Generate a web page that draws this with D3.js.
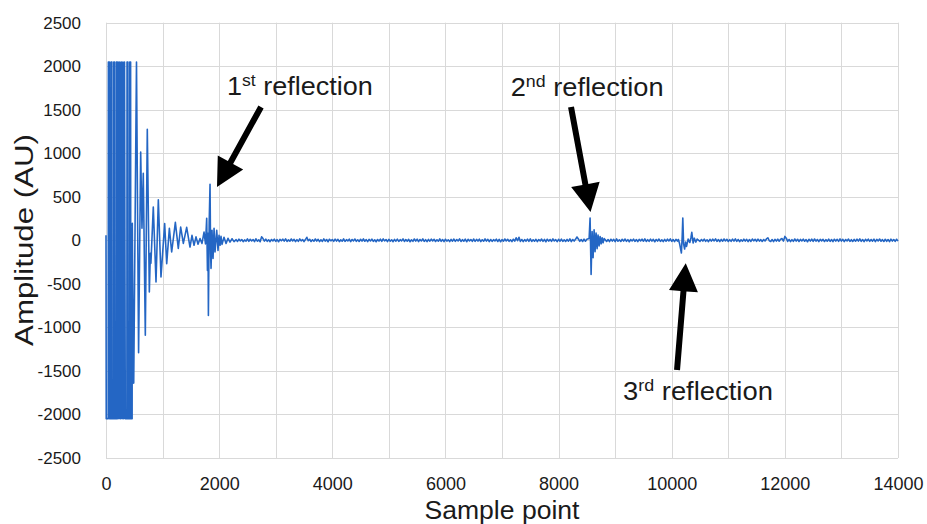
<!DOCTYPE html>
<html>
<head>
<meta charset="utf-8">
<script src="https://cdn.jsdelivr.net/npm/d3@7"></script>
<style>
  html, body { margin: 0; padding: 0; background: #ffffff; }
  svg { display: block; font-family: "Liberation Sans", Arial, sans-serif; }
</style>
</head>
<body>
<svg id="chart" width="927" height="524"></svg>
<script>
// ---------------- DATA ----------------
const xTicks = [0, 2000, 4000, 6000, 8000, 10000, 12000, 14000];
const xGrid = [0,1000,2000,3000,4000,5000,6000,7000,8000,9000,10000,11000,12000,13000,14000];
const yTicks = [2500, 2000, 1500, 1000, 500, 0, -500, -1000, -1500, -2000, -2500];

// initial burst, decay and 1st reflection: [sample, amplitude]
const burstAndFirst = [
  [0,60],[4,-2048],[39,-2048],[42,2048],[60,2048],[63,-2048],[86,-2048],[89,2048],[104,2048],
  [107,-2048],[135,-2048],[138,2048],[150,2048],[153,-2048],[180,-2048],[183,2048],[198,2048],
  [201,-2048],[215,2048],[229,-2048],[243,2048],[257,-2048],[271,2048],[285,-2048],[299,2048],
  [313,-2048],[327,2048],[341,-2048],[369,-2048],[372,2048],[387,2048],[390,-2048],[417,-2048],
  [420,2048],[435,2048],[438,-2048],[462,-2048],[465,195],[475,-780],[490,-1640],[505,-500],
  [539,2048],[576,-1290],[613,1015],[636,140],[659,770],[695,-1090],[730,1275],[766,-594],
  [784,-150],[794,-264],[836,383],[884,-479],[925,467],[972,-421],[1037,192],[1073,-268],
  [1120,138],[1161,-134],[1226,207],[1278,-92],[1320,153],[1367,-35],[1426,150],[1485,-77],
  [1520,57],[1556,-57],[1591,40],[1627,-45],[1662,20],[1697,-35],[1733,95],[1759,-40],
  [1780,253],[1793,-345],[1803,80],[1810,-862],[1824,200],[1839,643],[1849,-150],[1857,-322],
  [1874,115],[1892,-207],[1910,138],[1927,-134],[1957,115],[1980,-115],[1998,57],[2016,-57],
  [2033,46],[2051,-46],[2086,35],[2122,-35],[2157,23],[2192,-20],[2228,18],[2263,-15]
];

// baseline noise 2300..8500, every 25 samples
const noiseStep = 25;
const noiseAStart = 2300;
const noiseA = [
  8,-12,14,-6,10,-15,5,-9,16,-11,
  12,-7,9,-14,18,-10,6,-16,40,20,
  -8,13,-11,7,-15,10,-6,14,-12,9,
  -16,11,-5,13,-9,17,-13,6,-10,15,
  -7,12,-14,8,-11,16,-6,10,-15,9,
  35,-4,12,-13,7,-10,15,-8,11,-14,
  6,-12,17,-9,10,-16,13,-5,9,-11,
  14,-8,11,-15,6,-10,16,-12,8,-7,
  13,-14,10,-6,15,-11,7,-13,12,-9,
  16,-10,8,-15,11,-7,14,-12,6,-16,
  10,-8,13,-11,17,-6,9,-14,12,-10,
  7,-15,11,-9,14,-12,8,-6,16,-13,
  9,-10,12,-16,6,-11,15,-8,13,-14,
  10,-7,17,-12,8,-15,11,-9,14,-6,
  12,-13,7,-10,16,-11,9,-15,13,-8,
  6,-14,11,-9,15,-12,10,-7,17,-13,
  8,-10,14,-16,12,-6,9,-11,15,-12,
  11,-8,13,-14,7,-10,16,-9,12,-15,
  10,-12,8,-6,14,-13,11,-16,9,-10,
  15,-7,12,-11,6,-14,13,-9,30,-5,
  35,-12,10,-15,8,-9,14,-11,16,-13,
  7,-10,12,-14,9,-8,15,-12,11,-16,
  13,-9,10,-11,17,-7,8,-15,12,-10,
  14,-12,6,-13,11,-9,16,-14,10,-8,
  12,38,15,-11,9,-13,14,-10,12
];

// 2nd reflection: [sample, amplitude]
const secondReflection = [
  [8540,20],[8557,256],[8575,-391],[8593,100],[8610,-200],[8628,120],[8645,-130],[8663,85],
  [8681,-95],[8698,60],[8716,-65],[8734,45],[8752,-40],[8770,30],[8787,-28],[8805,20]
];

// baseline noise 8850..10100
const noiseBStart = 8850;
const noiseB = [
  -12,9,-15,13,-8,11,-14,16,-10,7,
  -13,12,-9,15,-11,8,-16,10,-7,14,
  -12,9,-15,11,-6,13,-10,17,-13,8,
  -11,14,-9,12,-16,10,-8,15,-12,6,
  -14,11,-10,13,-7,16,-12,9,-15,11,
  -8
];

// 3rd reflection
const thirdReflection = [
  [10118,10],[10140,-40],[10171,-146],[10185,40],[10196,256],[10210,-40],[10228,-100],[10245,-20],
  [10262,-70],[10290,15],[10320,-25],[10340,30],[10355,92],[10378,-30],[10400,25],[10425,-20],[10450,15]
];

// baseline noise 10500..14000
const noiseCStart = 10500;
const noiseC = [
  -12,10,-8,14,-11,7,-15,12,-9,13,
  -6,16,-12,9,-14,11,-10,15,-7,12,
  -13,8,-11,14,-9,16,-12,10,-15,7,
  -10,13,-8,11,-14,9,-12,15,-6,12,
  -11,14,-9,8,-13,10,-7,16,30,-5,
  -12,9,-15,11,-8,13,-10,14,20,-9,
  45,25,-12,10,-14,8,-11,15,-9,12,
  -13,11,-7,14,-10,9,-16,12,-8,13,
  -11,15,-9,10,-14,12,-6,11,-13,8,
  -10,14,-12,9,-15,13,-8,11,-11,16,
  -9,12,-14,10,-7,15,-12,8,-13,11,
  -10,13,-8,16,-11,9,-15,12,-6,14,
  -12,10,-9,13,-14,11,-7,15,-10,8,
  -13,12,-11,9,-15,14,-8,10,-12,13,
  -9
];

// annotations in data coordinates
const annotations = [
  {sup: "st", num: "1", textX: 2139, textY: 1670, width: 146, tail: [2740, 1532], tip: [1962, 612]},
  {sup: "nd", num: "2", textX: 7154, textY: 1662, width: 153, tail: [8220, 1532], tip: [8565, 326]},
  {sup: "rd", num: "3", textX: 9139, textY: -1834, width: 150, tail: [10094, -1489], tip: [10248, -263]}
];

// ---------------- BUILD SERIES ----------------
const series = [];
burstAndFirst.forEach(d => series.push(d));
noiseA.forEach((v, i) => series.push([noiseAStart + i * noiseStep, v]));
secondReflection.forEach(d => series.push(d));
noiseB.forEach((v, i) => series.push([noiseBStart + i * noiseStep, v]));
thirdReflection.forEach(d => series.push(d));
noiseC.forEach((v, i) => series.push([noiseCStart + i * noiseStep, v]));
series.sort((a, b) => a[0] - b[0]);

// ---------------- CHART ----------------
const svg = d3.select("#chart");
const pLeft = 106, pRight = 898, pTop = 22.7, pBottom = 458;
const x = d3.scaleLinear().domain([0, 14000]).range([pLeft, pRight]);
const y = d3.scaleLinear().domain([-2500, 2500]).range([pBottom, pTop]);
const fmt = d => String(d);

const gridColor = "#d9d9d9";
// grid
svg.append("g").selectAll("line").data(xGrid).join("line")
  .attr("x1", d => Math.round(x(d)) + 0.5).attr("x2", d => Math.round(x(d)) + 0.5)
  .attr("y1", pTop).attr("y2", pBottom)
  .attr("stroke", gridColor).attr("stroke-width", 1);
svg.append("g").selectAll("line").data(yTicks).join("line")
  .attr("y1", d => Math.round(y(d)) + 0.5).attr("y2", d => Math.round(y(d)) + 0.5)
  .attr("x1", pLeft).attr("x2", pRight)
  .attr("stroke", gridColor).attr("stroke-width", 1);

// axes (labels only)
const xAxis = svg.append("g").attr("transform", `translate(0,${pBottom + 16})`)
  .call(d3.axisBottom(x).tickValues(xTicks).tickSize(0).tickFormat(fmt));
xAxis.select(".domain").remove();
xAxis.selectAll("text").attr("font-size", 18).attr("fill", "#1a1a1a")
  .attr("font-family", "Liberation Sans, Arial, sans-serif");

const yAxis = svg.append("g").attr("transform", `translate(${pLeft - 22},0)`)
  .call(d3.axisLeft(y).tickValues(yTicks).tickSize(0).tickFormat(fmt));
yAxis.select(".domain").remove();
yAxis.selectAll("text").attr("font-size", 17).attr("fill", "#1a1a1a")
  .attr("font-family", "Liberation Sans, Arial, sans-serif");

// line
const line = d3.line().x(d => x(d[0])).y(d => y(d[1]));
svg.append("path").datum(series)
  .attr("d", line)
  .attr("fill", "none")
  .attr("stroke", "#2466c4")
  .attr("stroke-width", 1.6)
  .attr("stroke-linejoin", "round");

// helper: stretch text horizontally to a target width
function stretch(sel, targetW, anchorX, anchorY, rotate) {
  const w = sel.node().getComputedTextLength();
  const k = targetW / w;
  if (rotate) {
    sel.attr("transform", `translate(${anchorX},${anchorY}) rotate(-90) scale(${k},1)`);
  } else {
    sel.attr("transform", `translate(${anchorX},${anchorY}) scale(${k},1)`);
  }
}

// axis titles
const xt = svg.append("text").text("Sample point")
  .attr("font-size", 26).attr("fill", "#1a1a1a").attr("text-anchor", "middle");
stretch(xt, 155, (pLeft + pRight) / 2, 519);

const yt = svg.append("text").text("Amplitude (AU)")
  .attr("font-size", 26).attr("fill", "#1a1a1a").attr("text-anchor", "middle");
stretch(yt, 212, 33, 240, true);

// annotations
annotations.forEach(a => {
  const t = svg.append("text").attr("font-size", 26).attr("fill", "#1a1a1a");
  t.append("tspan").text(a.num);
  t.append("tspan").text(a.sup).attr("font-size", 17).attr("dy", -9);
  t.append("tspan").text(" reflection").attr("dy", 9);
  stretch(t, a.width, x(a.textX), y(a.textY));

  // arrow
  const x0 = x(a.tail[0]), y0 = y(a.tail[1]);
  const x1 = x(a.tip[0]), y1 = y(a.tip[1]);
  const dx = x1 - x0, dy = y1 - y0;
  const L = Math.hypot(dx, dy);
  const ux = dx / L, uy = dy / L;
  const px = -uy, py = ux;
  const headLen = 28, headHalf = 14.5, shaftHalf = 3;
  const bx = x1 - ux * headLen, by = y1 - uy * headLen;
  const pts = [
    [x0 + px * shaftHalf, y0 + py * shaftHalf],
    [bx + px * shaftHalf, by + py * shaftHalf],
    [bx + px * headHalf, by + py * headHalf],
    [x1, y1],
    [bx - px * headHalf, by - py * headHalf],
    [bx - px * shaftHalf, by - py * shaftHalf],
    [x0 - px * shaftHalf, y0 - py * shaftHalf]
  ];
  svg.append("polygon").attr("points", pts.map(p => p.join(",")).join(" "))
    .attr("fill", "#000000");
});
</script>
</body>
</html>
